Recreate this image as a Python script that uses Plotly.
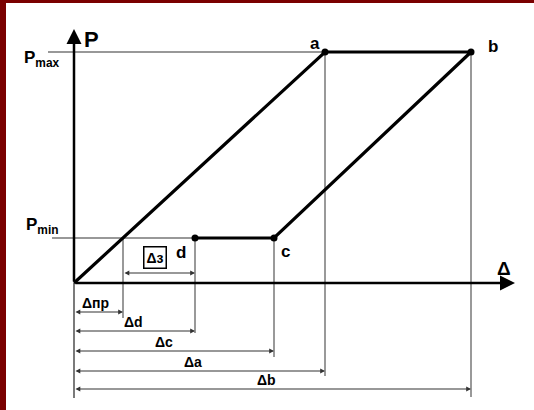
import plotly.graph_objects as go

# deformation values (pixel-scaled units from the origin)
d_pr = 49     # Δпр
d_d = 121     # Δd
d_c = 200     # Δc
d_a = 251     # Δa
d_b = 397     # Δb
p_min = 45
p_max = 231

point_names = ["a", "b", "c", "d"]
point_x = [d_a, d_b, d_c, d_d]
point_y = [p_max, p_max, p_min, p_min]

dim_labels = ["Δпр", "Δd", "Δc", "Δa", "Δb"]
dim_values = [d_pr, d_d, d_c, d_a, d_b]
dim_levels = [-29, -48, -68, -88, -106]
dim_label_x = [21, 59, 90, 119, 192]
vline_bottom = [-35, -50, -74, -93, -114]

FONT = "Liberation Sans, Arial, sans-serif"
THIN = "#555555"

fig = go.Figure()

# thin helper lines
fig.add_trace(go.Scatter(x=[-26, d_a], y=[p_max, p_max], mode="lines",
                         line=dict(color="#333", width=1.2)))
fig.add_trace(go.Scatter(x=[-22, d_d], y=[p_min, p_min], mode="lines",
                         line=dict(color="#333", width=1.2)))
for xv, top, bot in zip(dim_values, [p_min, p_min, p_min, p_max, p_max], vline_bottom):
    fig.add_trace(go.Scatter(x=[xv, xv], y=[top, bot], mode="lines",
                             line=dict(color=THIN, width=1.2)))
# y axis below origin
fig.add_trace(go.Scatter(x=[0, 0], y=[0, -115], mode="lines",
                         line=dict(color="#222", width=1.2)))

# loading / unloading curve
fig.add_trace(go.Scatter(
    x=[0] + point_x, y=[0] + point_y, mode="lines",
    line=dict(color="black", width=3.2),
))
fig.add_trace(go.Scatter(
    x=point_x, y=point_y, mode="markers",
    marker=dict(color="black", size=7),
))

ann = []
# axes with arrows
ann.append(dict(x=0, y=254, ax=0, ay=0, xref="x", yref="y", axref="x", ayref="y",
                showarrow=True, arrowhead=2, arrowsize=1.2, arrowwidth=2.5,
                arrowcolor="black", text=""))
ann.append(dict(x=441, y=0, ax=0, ay=0, xref="x", yref="y", axref="x", ayref="y",
                showarrow=True, arrowhead=2, arrowsize=1.2, arrowwidth=2.5,
                arrowcolor="black", text=""))

# dimension arrows
for xv, lv in zip(dim_values, dim_levels):
    ann.append(dict(x=xv, y=lv, ax=0, ay=lv, xref="x", yref="y", axref="x", ayref="y",
                    showarrow=True, arrowhead=2, startarrowhead=2, arrowside="end+start",
                    arrowsize=0.8, startarrowsize=0.8, arrowwidth=1.2,
                    arrowcolor="#333", text=""))
ann.append(dict(x=d_d, y=10, ax=d_pr, ay=10, xref="x", yref="y", axref="x", ayref="y",
                showarrow=True, arrowhead=2, startarrowhead=2, arrowside="end+start",
                arrowsize=0.8, startarrowsize=0.8, arrowwidth=1.2,
                arrowcolor="#333", text=""))

# texts
for lab, lx, lv in zip(dim_labels, dim_label_x, dim_levels):
    ann.append(dict(x=lx, y=lv + 9, text="<b>%s</b>" % lab, showarrow=False,
                    font=dict(size=14, color="black", family=FONT)))
ann.append(dict(x=81, y=26, text="<b>Δз</b>", showarrow=False,
                bordercolor="black", borderwidth=1.5, borderpad=2,
                font=dict(size=14, color="black", family=FONT)))

label_off = [(-10, 9), (22, 6), (11, -13), (-14, -14)]
for name, px_, py_, (ox, oy) in zip(point_names, point_x, point_y, label_off):
    ann.append(dict(x=px_ + ox, y=py_ + oy, text="<b>%s</b>" % name, showarrow=False,
                    font=dict(size=17, color="black", family=FONT)))

ann.append(dict(x=17, y=244, text="<b>P</b>", showarrow=False,
                font=dict(size=22, color="black", family=FONT)))
ann.append(dict(x=430, y=15, text="<b>Δ</b>", showarrow=False,
                font=dict(size=19, color="black", family=FONT)))
ann.append(dict(x=-32, y=224, text="<b>P<sub>max</sub></b>", showarrow=False,
                font=dict(size=17, color="black", family=FONT)))
ann.append(dict(x=-32, y=57, text="<b>P<sub>min</sub></b>", showarrow=False,
                font=dict(size=17, color="black", family=FONT)))

fig.update_layout(
    width=534, height=410,
    margin=dict(l=0, r=0, t=0, b=0),
    showlegend=False,
    plot_bgcolor="white", paper_bgcolor="white",
    xaxis=dict(range=[-74, 460], visible=False, fixedrange=True),
    yaxis=dict(range=[-127, 283], visible=False, fixedrange=True),
    annotations=ann,
    shapes=[
        dict(type="rect", xref="paper", yref="paper", x0=0, x1=6 / 534, y0=0, y1=1,
             fillcolor="#7a0000", line=dict(width=0), layer="above"),
        dict(type="rect", xref="paper", yref="paper", x0=0, x1=1, y0=1 - 3 / 410, y1=1,
             fillcolor="#7a0000", line=dict(width=0), layer="above"),
    ],
)

fig.write_html("out.html", config={"displayModeBar": False},
               post_script="document.body.style.margin='0';document.body.style.overflow='hidden';")
